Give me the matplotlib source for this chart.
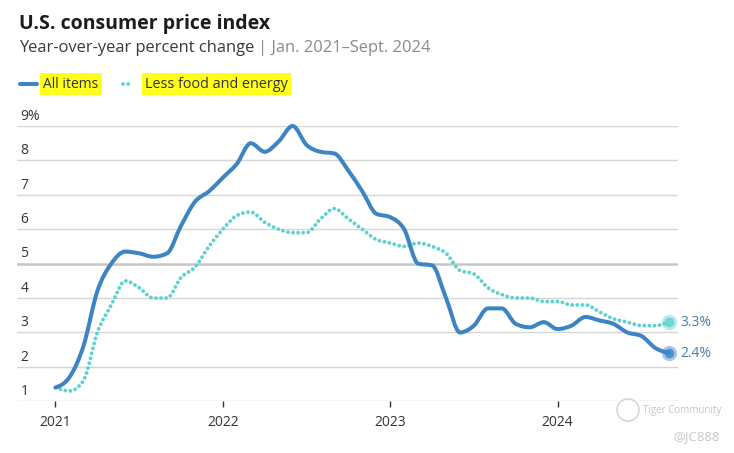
import matplotlib
matplotlib.use("Agg")
import numpy as np
import matplotlib.pyplot as plt
from matplotlib.lines import Line2D
from matplotlib.patches import Circle, PathPatch
from matplotlib.path import Path

# ---- data ----
months = list(range(45))  # Jan 2021 .. Sep 2024
all_items = [1.4, 1.7, 2.6, 4.2, 5.0, 5.35, 5.3, 5.2, 5.3, 6.1, 6.8, 7.1,
             7.5, 7.9, 8.5, 8.25, 8.55, 9.0, 8.45, 8.25, 8.2, 7.7, 7.1, 6.45,
             6.35, 6.0, 5.0, 4.95, 4.0, 3.0, 3.2, 3.7, 3.7, 3.25, 3.15, 3.3,
             3.1, 3.2, 3.45, 3.35, 3.25, 3.0, 2.9, 2.55, 2.4]
core = [1.4, 1.3, 1.6, 3.0, 3.8, 4.5, 4.3, 4.0, 4.0, 4.6, 4.9, 5.5,
        6.0, 6.4, 6.5, 6.2, 6.0, 5.9, 5.9, 6.3, 6.6, 6.3, 6.0, 5.7,
        5.6, 5.5, 5.6, 5.5, 5.3, 4.8, 4.7, 4.3, 4.1, 4.0, 4.0, 3.9,
        3.9, 3.8, 3.8, 3.6, 3.4, 3.3, 3.2, 3.2, 3.3]
year_ticks = [0, 12, 24, 36]
year_labels = ["2021", "2022", "2023", "2024"]
y_values = [1, 2, 3, 4, 5, 6, 7, 8, 9]
y_labels = ["1", "2", "3", "4", "5", "6", "7", "8", "9%"]
series_names = ["All items", "Less food and energy"]

BLUE = "#3d84c5"
TEAL = "#5cd3cf"
TXT = "#333333"
W, H = 734, 453
DOTS = (0, (0.01, 1.3))

plt.rcParams["font.family"] = ["Open Sans", "DejaVu Sans"]
fig = plt.figure(figsize=(W / 100, H / 100), dpi=100)
fig.patch.set_facecolor("white")


def fx(px):
    return px / W


def fy(py):
    return 1 - py / H


def monotone_path(xs, ys):
    """Smooth monotone cubic (like d3.curveMonotoneX) through the data."""
    x = np.asarray(xs, float)
    y = np.asarray(ys, float)
    n = len(x)
    h = np.diff(x)
    s = np.diff(y) / h
    m = np.zeros(n)
    for i in range(1, n - 1):
        p = (s[i - 1] * h[i] + s[i] * h[i - 1]) / (h[i - 1] + h[i])
        m[i] = (np.sign(s[i - 1]) + np.sign(s[i])) * min(abs(s[i - 1]), abs(s[i]), 0.5 * abs(p))
    m[0] = (3 * s[0] - m[1]) / 2
    m[-1] = (3 * s[-1] - m[-2]) / 2
    verts = [(x[0], y[0])]
    codes = [Path.MOVETO]
    for i in range(n - 1):
        d = h[i] / 3
        verts += [(x[i] + d, y[i] + d * m[i]),
                  (x[i + 1] - d, y[i + 1] - d * m[i + 1]),
                  (x[i + 1], y[i + 1])]
        codes += [Path.CURVE4] * 3
    return Path(verts, codes)


ax = fig.add_axes([fx(17), fy(401.3), fx(678 - 17), (401.3 - 126) / H])
ax.set_xlim(-2.76, 44.63)
ax.set_ylim(1, 9)
for s in ax.spines.values():
    s.set_visible(False)

for v, lab in zip(y_values, y_labels):
    if v == 5:
        ax.axhline(v, color="#c6c6c6", lw=1.8, zorder=1)
    else:
        ax.axhline(v, color="#d6d6d6", lw=1.0, zorder=1)
    ax.annotate(lab, xy=(0.005, v), xycoords=("axes fraction", "data"),
                xytext=(0, 4.5), textcoords="offset points",
                ha="left", va="baseline", fontsize=10, color=TXT)

ax.set_yticks([])
ax.set_xticks(year_ticks)
ax.set_xticklabels(year_labels)
ax.tick_params(axis="x", length=4, width=1, color=TXT, pad=6,
               labelsize=10, labelcolor=TXT)

p_all = PathPatch(monotone_path(months, all_items), fill=False, ec=BLUE,
                  lw=2.9, joinstyle="round", capstyle="round", zorder=4,
                  clip_on=False)
ax.add_patch(p_all)
p_core = PathPatch(monotone_path(months, core), fill=False, ec=TEAL,
                   lw=2.8, linestyle=DOTS, capstyle="round",
                   zorder=3, clip_on=False)
ax.add_patch(p_core)

# end markers
for vals, col in ((all_items, BLUE), (core, TEAL)):
    ax.plot([months[-1]], [vals[-1]], "o", ms=11, color=col, alpha=0.45,
            mec="none", zorder=5, clip_on=False)
    ax.plot([months[-1]], [vals[-1]], "o", ms=7, color=col, alpha=0.8,
            mec="none", zorder=6, clip_on=False)
    ax.annotate(f"{vals[-1]:.1f}%", xy=(months[-1], vals[-1]),
                xytext=(8, 0), textcoords="offset points",
                ha="left", va="center", fontsize=10, color="#4a7eab")

# ---- title / subtitle ----
fig.text(fx(19), fy(29), "U.S. consumer price index", fontsize=14,
         fontweight="bold", color="#1c1c1c", va="baseline", ha="left")
renderer = fig.canvas.get_renderer()
t1 = fig.text(fx(19), fy(52), "Year-over-year percent change", fontsize=11.9,
              color="#3a3a3a", va="baseline", ha="left")
bb = t1.get_window_extent(renderer)
fig.text(bb.x1 / W + fx(4), fy(52), "| Jan. 2021\u2013Sept. 2024", fontsize=11.9,
         color="#8a8a8a", va="baseline", ha="left")

# ---- legend ----
fig.add_artist(Line2D([fx(20), fx(37)], [fy(84), fy(84)], color=BLUE, lw=2.9,
                      solid_capstyle="round"))
fig.text(fx(43), fy(84), series_names[0], fontsize=10, color=TXT,
         va="center", ha="left",
         bbox=dict(facecolor="#ffff1a", edgecolor="none", pad=2.4))
fig.add_artist(Line2D([fx(123), fx(131)], [fy(84), fy(84)], color=TEAL, lw=2.8,
                      linestyle=DOTS, dash_capstyle="round"))
fig.text(fx(145), fy(84), series_names[1], fontsize=10.4, color=TXT,
         va="center", ha="left",
         bbox=dict(facecolor="#ffff1a", edgecolor="none", pad=2.4))

# ---- watermark ----
fig.add_artist(Circle((6.28, (H - 410) / 100), 0.11, transform=fig.dpi_scale_trans,
                      fill=False, ec="#d0d0d0", lw=1.0))
fig.text(fx(643), fy(411), "Tiger Community", fontsize=7, color="#c4c4c4",
         va="center", ha="left")
fig.text(fx(720), fy(437), "@JC888", fontsize=9.5, color="#c8c8c8",
         va="center", ha="right")

fig.savefig("out.png", dpi=100, facecolor="white")
